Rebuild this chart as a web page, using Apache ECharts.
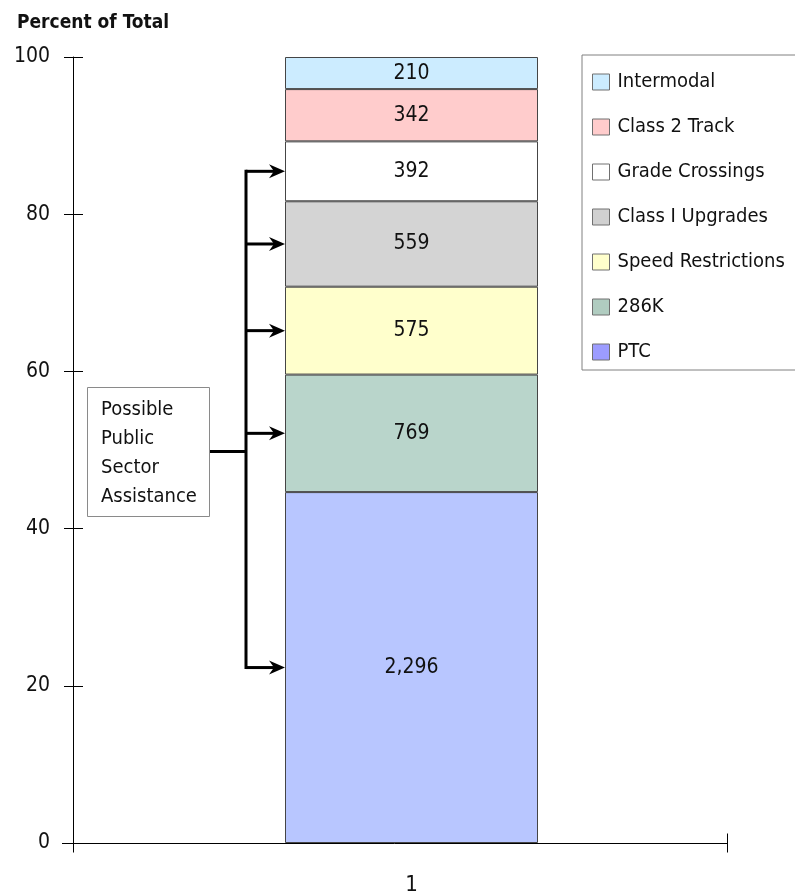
<!DOCTYPE html>
<html>
<head>
<meta charset="utf-8">
<script src="https://cdn.jsdelivr.net/npm/echarts@6/dist/echarts.min.js"></script>
<style>html,body{margin:0;padding:0;background:#fff}#main{width:795px;height:896px}</style>
</head>
<body>
<div id="main"></div>
<script>
const categories = ['1'];
const seriesNames = ['PTC', '286K', 'Speed Restrictions', 'Class I Upgrades', 'Grade Crossings', 'Class 2 Track', 'Intermodal'];
const seriesValues = [2296, 769, 575, 559, 392, 342, 210];
const yTickLabels = [0, 20, 40, 60, 80, 100];
const assistedSeries = ['PTC', '286K', 'Speed Restrictions', 'Class I Upgrades', 'Grade Crossings'];
const annotationLines = ['Possible', 'Public', 'Sector', 'Assistance'];
const titleText = 'Percent of Total';

const barColors = ['#B8C6FF', '#B9D5CB', '#FFFFCC', '#D4D4D4', '#FFFFFF', '#FFCCCC', '#CCECFF'];
const legendColors = ['#9C9CFF', '#B0CCC0', '#FFFFCC', '#D0D0D0', '#FFFFFF', '#FFCCCC', '#CCECFF'];
const FONT = "'DejaVu Sans Condensed', 'DejaVu Sans', sans-serif";

const total = seriesValues.reduce((a, b) => a + b, 0);
const pct = seriesValues.map(v => v / total * 100);

const chart = echarts.init(document.getElementById('main'), null, {renderer: 'canvas'});

const series = seriesNames.map((name, i) => ({
  name: name,
  type: 'bar',
  stack: 'total',
  barWidth: 253,
  data: [pct[i]],
  itemStyle: {color: barColors[i], borderColor: '#454545', borderWidth: 1},
  label: {
    show: true, position: 'inside', color: '#111', fontFamily: FONT, fontSize: 21,
    formatter: () => seriesValues[i].toLocaleString('en-US')
  },
  emphasis: {disabled: true},
  animation: false
}));

const legendData = seriesNames.map((name, i) => ({
  name: name,
  icon: 'rect',
  itemStyle: {color: legendColors[i], borderColor: '#707070', borderWidth: 1}
})).reverse();

const option = {
  animation: false,
  title: {
    text: titleText, left: 12, top: 9,
    textStyle: {fontFamily: FONT, fontSize: 19, fontWeight: 'bold', color: '#111'}
  },
  grid: {left: 73, top: 57, width: 677, height: 788, containLabel: false},
  legend: {
    orient: 'vertical', left: 582, top: 55,
    data: legendData,
    itemWidth: 17, itemHeight: 16, itemGap: 25,
    padding: [17, 40, 8, 10],
    borderColor: '#808080', borderWidth: 1,
    selectedMode: false,
    textStyle: {fontFamily: FONT, fontSize: 20, color: '#111', padding: [0, 0, 0, 3]}
  },
  xAxis: {
    type: 'category', data: categories,
    axisLine: {show: false}, axisTick: {show: false},
    axisLabel: {fontFamily: FONT, fontSize: 22, color: '#111', margin: 31}
  },
  yAxis: [{
    type: 'value', min: 0, max: 100, interval: 20,
    axisLine: {show: true, lineStyle: {color: '#000', width: 1}},
    axisTick: {show: true, length: 9, lineStyle: {color: '#000'}},
    splitLine: {show: false},
    axisLabel: {fontFamily: FONT, fontSize: 21, color: '#111', margin: 23,
      formatter: v => yTickLabels.includes(v) ? String(v) : ''}
  }, {
    type: 'value', min: 0, max: 100, interval: 20, position: 'left',
    axisLine: {show: false},
    axisTick: {show: true, inside: true, length: 10, lineStyle: {color: '#000'}},
    splitLine: {show: false}, axisLabel: {show: false}
  }],
  series: series
};
chart.setOption(option);

// Annotations computed from the chart's own scales
function px(cat, val) { return chart.convertToPixel({gridIndex: 0}, [cat, val]); }
const origin = px(categories[0], 0);
const axisY = Math.round(origin[1]) + 0.5;
const barLeft = origin[0] - 253 / 2;
const gridLeft = 73.5, axisRight = 727.5;

const cum = [];
let acc = 0;
pct.forEach(p => { cum.push(acc + p / 2); acc += p; });
const arrowYs = assistedSeries.map(n => px(categories[0], cum[seriesNames.indexOf(n)])[1]);
const vx = 246;
const box = {x: 87, y: 387, w: 122, h: 129};
const boxMid = box.y + box.h / 2;

const g = [];
// x axis line and ticks
g.push({type: 'line', shape: {x1: 62, y1: axisY, x2: axisRight, y2: axisY}, style: {stroke: '#000', lineWidth: 1}, z: 100});
g.push({type: 'line', shape: {x1: gridLeft, y1: axisY, x2: gridLeft, y2: axisY + 9}, style: {stroke: '#000', lineWidth: 1}, z: 100});
g.push({type: 'line', shape: {x1: axisRight, y1: axisY - 10, x2: axisRight, y2: axisY + 9}, style: {stroke: '#000', lineWidth: 1}, z: 100});
// annotation box
g.push({type: 'rect', shape: {x: box.x + 0.5, y: box.y + 0.5, width: box.w, height: box.h}, style: {fill: '#fff', stroke: '#8a8a8a', lineWidth: 1}, z: 100});
g.push({type: 'text', x: 101, y: 395, style: {text: annotationLines.join('\n'), font: '20px ' + FONT, fill: '#111', lineHeight: 29}, z: 101});
// connector
g.push({type: 'line', shape: {x1: box.x + box.w + 1, y1: boxMid, x2: vx, y2: boxMid}, style: {stroke: '#000', lineWidth: 3}, z: 100});
g.push({type: 'line', shape: {x1: vx, y1: Math.min(...arrowYs) - 1.5, x2: vx, y2: Math.max(...arrowYs) + 1.5}, style: {stroke: '#000', lineWidth: 3}, z: 100});
arrowYs.forEach(y => {
  g.push({type: 'line', shape: {x1: vx, y1: y, x2: barLeft - 8, y2: y}, style: {stroke: '#000', lineWidth: 3}, z: 100});
  g.push({type: 'polygon', shape: {points: [[barLeft, y], [barLeft - 16, y - 7], [barLeft - 11, y], [barLeft - 16, y + 7]]}, style: {fill: '#000'}, z: 101});
});
chart.setOption({graphic: g});
</script>
</body>
</html>
